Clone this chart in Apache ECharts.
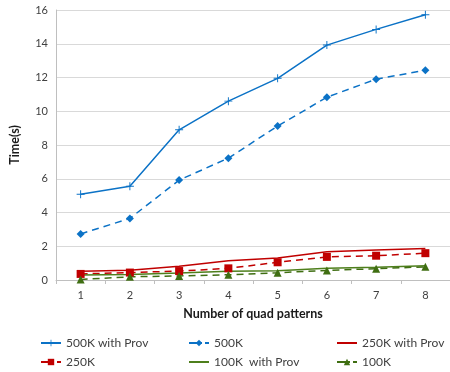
<!DOCTYPE html>
<html><head><meta charset="utf-8">
<script src="https://cdn.jsdelivr.net/npm/echarts@6/dist/echarts.min.js"></script>
<style>html,body{margin:0;padding:0;background:#fff}#c{width:450px;height:372px}</style>
</head><body><div id="c"></div>
<script>
var categories = ['1','2','3','4','5','6','7','8'];
var s500kProv = [5.08, 5.55, 8.9, 10.6, 11.95, 13.92, 14.85, 15.72];
var s500k = [2.73, 3.65, 5.92, 7.22, 9.12, 10.83, 11.9, 12.43];
var s250kProv = [0.52, 0.58, 0.82, 1.14, 1.3, 1.68, 1.78, 1.86];
var s250k = [0.36, 0.44, 0.53, 0.69, 1.05, 1.37, 1.44, 1.59];
var s100kProv = [0.3, 0.33, 0.41, 0.52, 0.55, 0.7, 0.76, 0.84];
var s100k = [0.03, 0.19, 0.24, 0.31, 0.43, 0.57, 0.67, 0.78];
var seriesNames = ['500K with Prov', '500K', '250K with Prov', '250K', '100K  with Prov', '100K'];

var BLUE = '#0B72C6', RED = '#C00000', GREEN = '#4E7F1C', GREEN2 = '#3F6E12';
var plus = 'path://M-0.6,-5H0.6V-0.6H5V0.6H0.6V5H-0.6V0.6H-5V-0.6H-0.6Z';
var font = 'Lato, "Open Sans", sans-serif';

function mk(name, data, color, dashed, symbol, size, showSym) {
  return {
    name: name, type: 'line', data: data,
    symbol: symbol, symbolSize: size, showSymbol: showSym,
    lineStyle: { color: color, width: 1.5, type: dashed ? [7, 5] : 'solid' },
    itemStyle: { color: color },
    emphasis: { disabled: true },
    animation: false
  };
}

var series = [
  mk(seriesNames[0], s500kProv, BLUE, false, plus, 8, true),
  mk(seriesNames[1], s500k, BLUE, true, 'diamond', 8, true),
  mk(seriesNames[2], s250kProv, RED, false, 'none', 0, false),
  mk(seriesNames[3], s250k, RED, true, 'rect', 8, true),
  mk(seriesNames[4], s100kProv, GREEN, false, 'none', 0, false),
  mk(seriesNames[5], s100k, GREEN2, true, 'triangle', 8, true)
];

var legPos = [[35, 332], [183, 332], [331, 332], [35, 351], [183, 351], [331, 351]];
var legDashed = [false, true, false, true, false, true];
var legNoSym = [false, false, true, false, true, false];
var legends = seriesNames.map(function (n, i) {
  var l = {
    data: [n], left: legPos[i][0], top: legPos[i][1],
    itemWidth: 20, itemHeight: 8, itemGap: 0,
    textStyle: { fontFamily: font, fontSize: 12, color: '#404040' },
    selectedMode: false
  };
  if (legDashed[i]) l.lineStyle = { type: [13, 3] };
  if (legNoSym[i]) l.itemStyle = { opacity: 0 };
  return l;
});

var chart = echarts.init(document.getElementById('c'), null, { renderer: 'canvas' });
chart.setOption({
  animation: false,
  grid: { left: 50, right: -4, top: 10, bottom: 92, containLabel: false },
  legend: legends,
  xAxis: {
    type: 'category', data: categories, boundaryGap: true,
    name: 'Number of quad patterns', nameLocation: 'middle', nameGap: 27,
    nameTextStyle: { fontFamily: font, fontSize: 12.5, fontWeight: 'bold', color: '#1a1a1a' },
    axisLine: { lineStyle: { color: '#BFBFBF', width: 1 } },
    axisTick: { show: true, length: 4, lineStyle: { color: '#BFBFBF' } },
    axisLabel: { fontFamily: font, fontSize: 11, color: '#404040', margin: 10 }
  },
  yAxis: {
    type: 'value', min: 0, max: 16, interval: 2,
    name: 'Time(s)', nameLocation: 'middle', nameGap: 35, nameRotate: 90,
    nameTextStyle: { fontFamily: font, fontSize: 12.5, fontWeight: 'bold', color: '#1a1a1a' },
    axisLine: { show: true, lineStyle: { color: '#BFBFBF', width: 1 } },
    axisTick: { show: false },
    axisLabel: { fontFamily: font, fontSize: 11, color: '#404040', margin: 8 },
    splitLine: { lineStyle: { color: '#D9D9D9', width: 1 } }
  },
  series: series
});
</script></body></html>
